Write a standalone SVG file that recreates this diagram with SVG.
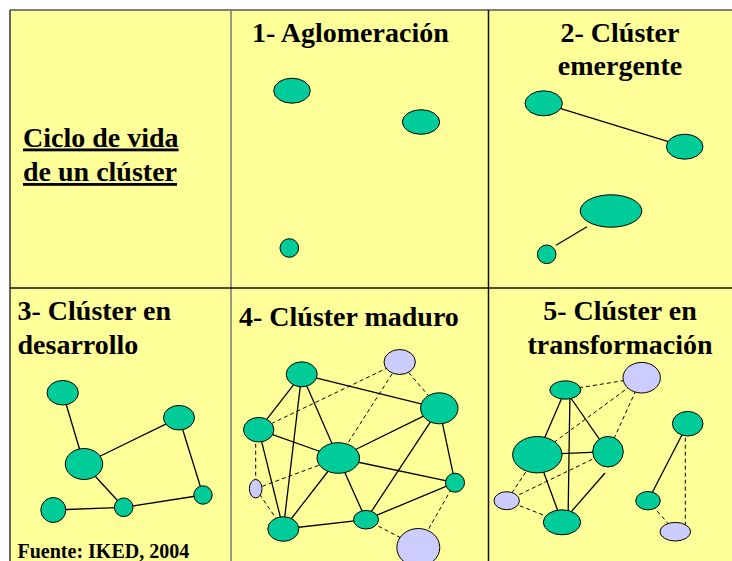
<svg xmlns="http://www.w3.org/2000/svg" width="732" height="561" viewBox="0 0 732 561">
<style>
.g{fill:#00CC99;stroke:#000;stroke-width:1}
.l{fill:#CCCCFF;stroke:#000;stroke-width:1}
.s{stroke:#000;stroke-width:1.3;fill:none}
.d{stroke:#000;stroke-width:1;stroke-dasharray:4 3;fill:none}
</style>
<rect x="0" y="0" width="732" height="561" fill="#fff"/>
<rect x="10" y="10" width="740" height="560" fill="#FFFF99"/>
<g id="grid" fill="none">
<line x1="10" y1="10" x2="732" y2="10" stroke="#555" stroke-width="1.5"/>
<line x1="10" y1="10" x2="10" y2="561" stroke="#333" stroke-width="1.5"/>
<line x1="231" y1="10" x2="231" y2="561" stroke="#777" stroke-width="1.5"/>
<line x1="488.5" y1="10" x2="488.5" y2="561" stroke="#111" stroke-width="1.5"/>
<line x1="10" y1="288" x2="732" y2="288" stroke="#111" stroke-width="1.5"/>
</g>
<g id="labels" font-family="Liberation Serif, Times New Roman, serif" font-weight="bold" font-size="28" fill="#000">
<text x="23" y="146.5" text-decoration="underline">Ciclo de vida</text>
<text x="23" y="181" text-decoration="underline">de un clúster</text>
<text x="252" y="41.5">1- Aglomeración</text>
<text x="620" y="41.5" text-anchor="middle">2- Clúster</text>
<text x="620" y="75" text-anchor="middle">emergente</text>
<text x="17.5" y="320">3- Clúster en</text>
<text x="17.5" y="354">desarrollo</text>
<text x="239" y="325.5">4- Clúster maduro</text>
<text x="620" y="320" text-anchor="middle">5- Clúster en</text>
<text x="620" y="353.5" text-anchor="middle">transformación</text>
<text x="17.5" y="557.5" font-size="20">Fuente: IKED, 2004</text>
</g>
<g id="connectors">
<line class="s" x1="543.7" y1="103.3" x2="684.7" y2="146.7"/>
<line class="s" x1="587" y1="226.7" x2="556" y2="245.3"/>
<line class="s" x1="62.7" y1="392.7" x2="84" y2="464"/>
<line class="s" x1="84" y1="464" x2="179" y2="417.7"/>
<line class="s" x1="84" y1="464" x2="123.7" y2="507.3"/>
<line class="s" x1="53.3" y1="510" x2="123.7" y2="507.3"/>
<line class="s" x1="123.7" y1="507.3" x2="203" y2="495"/>
<line class="s" x1="179" y1="417.7" x2="203" y2="495"/>
<line class="s" x1="301.7" y1="374.3" x2="258.7" y2="429.7"/>
<line class="s" x1="301.7" y1="374.3" x2="283.3" y2="529"/>
<line class="s" x1="301.7" y1="374.3" x2="338.3" y2="458"/>
<line class="s" x1="301.7" y1="374.3" x2="439.3" y2="408.3"/>
<line class="s" x1="258.7" y1="429.7" x2="338.3" y2="458"/>
<line class="s" x1="258.7" y1="429.7" x2="283.3" y2="529"/>
<line class="s" x1="338.3" y1="458" x2="439.3" y2="408.3"/>
<line class="s" x1="338.3" y1="458" x2="455" y2="482.7"/>
<line class="s" x1="338.3" y1="458" x2="283.3" y2="529"/>
<line class="s" x1="338.3" y1="458" x2="366" y2="519.7"/>
<line class="s" x1="439.3" y1="408.3" x2="366" y2="519.7"/>
<line class="s" x1="439.3" y1="408.3" x2="455" y2="482.7"/>
<line class="s" x1="283.3" y1="529" x2="366" y2="519.7"/>
<line class="s" x1="366" y1="519.7" x2="455" y2="482.7"/>
<line class="d" x1="258.7" y1="429.7" x2="399.7" y2="362"/>
<line class="d" x1="399.7" y1="362" x2="338.3" y2="458"/>
<line class="d" x1="399.7" y1="362" x2="439.3" y2="408.3"/>
<line class="d" x1="255.7" y1="429.7" x2="255.7" y2="488.7"/>
<line class="d" x1="255.7" y1="488.7" x2="338.3" y2="458"/>
<line class="d" x1="255.7" y1="488.7" x2="283.3" y2="529"/>
<line class="d" x1="366" y1="519.7" x2="418.3" y2="547"/>
<line class="d" x1="455" y1="482.7" x2="418.3" y2="547"/>
<line class="s" x1="565.3" y1="390" x2="537.3" y2="454.7"/>
<line class="s" x1="570" y1="390" x2="568" y2="522.3"/>
<line class="s" x1="565.3" y1="390" x2="608" y2="451.7"/>
<line class="s" x1="537.3" y1="454.7" x2="608" y2="451.7" stroke-width="2"/>
<line class="s" x1="537.3" y1="454.7" x2="562" y2="522.3"/>
<line class="s" x1="605" y1="473" x2="562" y2="522.3"/>
<line class="s" x1="687.7" y1="423.7" x2="648" y2="500.7"/>
<line class="d" x1="565.3" y1="390" x2="641.7" y2="377.7"/>
<line class="d" x1="641.7" y1="377.7" x2="537.3" y2="454.7"/>
<line class="d" x1="641.7" y1="377.7" x2="608" y2="451.7"/>
<line class="d" x1="537.3" y1="454.7" x2="506.7" y2="500.7"/>
<line class="d" x1="506.7" y1="500.7" x2="608" y2="451.7"/>
<line class="d" x1="506.7" y1="500.7" x2="562" y2="522.3"/>
<line class="d" x1="648" y1="500.7" x2="675.3" y2="531.7"/>
<line class="d" x1="685.3" y1="423.7" x2="685.3" y2="531.7"/>
</g>
<g id="p1-n1"><ellipse class="g" cx="292" cy="90.7" rx="18.3" ry="12.5"/></g>
<g id="p1-n2"><ellipse class="g" cx="421" cy="122" rx="18.7" ry="12.3"/></g>
<g id="p1-n3"><ellipse class="g" cx="289.3" cy="248" rx="9.3" ry="9.3"/></g>
<g id="p2-n1"><ellipse class="g" cx="543.7" cy="103.3" rx="18.7" ry="12.5"/></g>
<g id="p2-n2"><ellipse class="g" cx="684.7" cy="146.7" rx="18.3" ry="12.5"/></g>
<g id="p2-n3"><ellipse class="g" cx="611" cy="211" rx="30.8" ry="16.2"/></g>
<g id="p2-n4"><ellipse class="g" cx="546.7" cy="254.3" rx="9.3" ry="9.3"/></g>
<g id="p3-n1"><ellipse class="g" cx="62.7" cy="392.7" rx="15.7" ry="12.3"/></g>
<g id="p3-n2"><ellipse class="g" cx="179" cy="417.7" rx="15.5" ry="12.3"/></g>
<g id="p3-n3"><ellipse class="g" cx="84" cy="464" rx="18.7" ry="15.5"/></g>
<g id="p3-n4"><ellipse class="g" cx="53.3" cy="510" rx="12.5" ry="12.5"/></g>
<g id="p3-n5"><ellipse class="g" cx="123.7" cy="507.3" rx="9.3" ry="9.3"/></g>
<g id="p3-n6"><ellipse class="g" cx="203" cy="495" rx="9.2" ry="9.2"/></g>
<g id="p4-a"><ellipse class="g" cx="301.7" cy="374.3" rx="15.5" ry="12.5"/></g>
<g id="p4-b"><ellipse class="l" cx="399.7" cy="362" rx="15.7" ry="12.5"/></g>
<g id="p4-c"><ellipse class="g" cx="439.3" cy="408.3" rx="18.7" ry="15.5"/></g>
<g id="p4-d"><ellipse class="g" cx="258.7" cy="429.7" rx="15.2" ry="12.3"/></g>
<g id="p4-e"><ellipse class="g" cx="338.3" cy="458" rx="21.3" ry="15.3"/></g>
<g id="p4-f"><ellipse class="l" cx="255.7" cy="488.7" rx="6.3" ry="9.2"/></g>
<g id="p4-g"><ellipse class="g" cx="455" cy="482.7" rx="9.5" ry="9.5"/></g>
<g id="p4-h"><ellipse class="g" cx="283.3" cy="529" rx="15.5" ry="12.3"/></g>
<g id="p4-i"><ellipse class="g" cx="366" cy="519.7" rx="12.5" ry="9.3"/></g>
<g id="p4-j"><ellipse class="l" cx="418.3" cy="547.5" rx="21.5" ry="19"/></g>
<g id="p5-p"><ellipse class="g" cx="565.3" cy="390" rx="15.5" ry="9.2"/></g>
<g id="p5-q"><ellipse class="l" cx="641.7" cy="377.7" rx="18.7" ry="15.3"/></g>
<g id="p5-r"><ellipse class="g" cx="537.3" cy="454.7" rx="24.7" ry="18.2"/></g>
<g id="p5-s"><ellipse class="g" cx="608" cy="451.7" rx="15.3" ry="15.3"/></g>
<g id="p5-t"><ellipse class="l" cx="506.7" cy="500.7" rx="12.7" ry="9"/></g>
<g id="p5-u"><ellipse class="g" cx="562" cy="522.3" rx="18.7" ry="12.5"/></g>
<g id="p5-v"><ellipse class="g" cx="687.7" cy="423.7" rx="15.3" ry="12.3"/></g>
<g id="p5-w"><ellipse class="g" cx="648" cy="500.7" rx="12.3" ry="9.2"/></g>
<g id="p5-x"><ellipse class="l" cx="675.3" cy="531.7" rx="15.3" ry="9.3"/></g>
</svg>
